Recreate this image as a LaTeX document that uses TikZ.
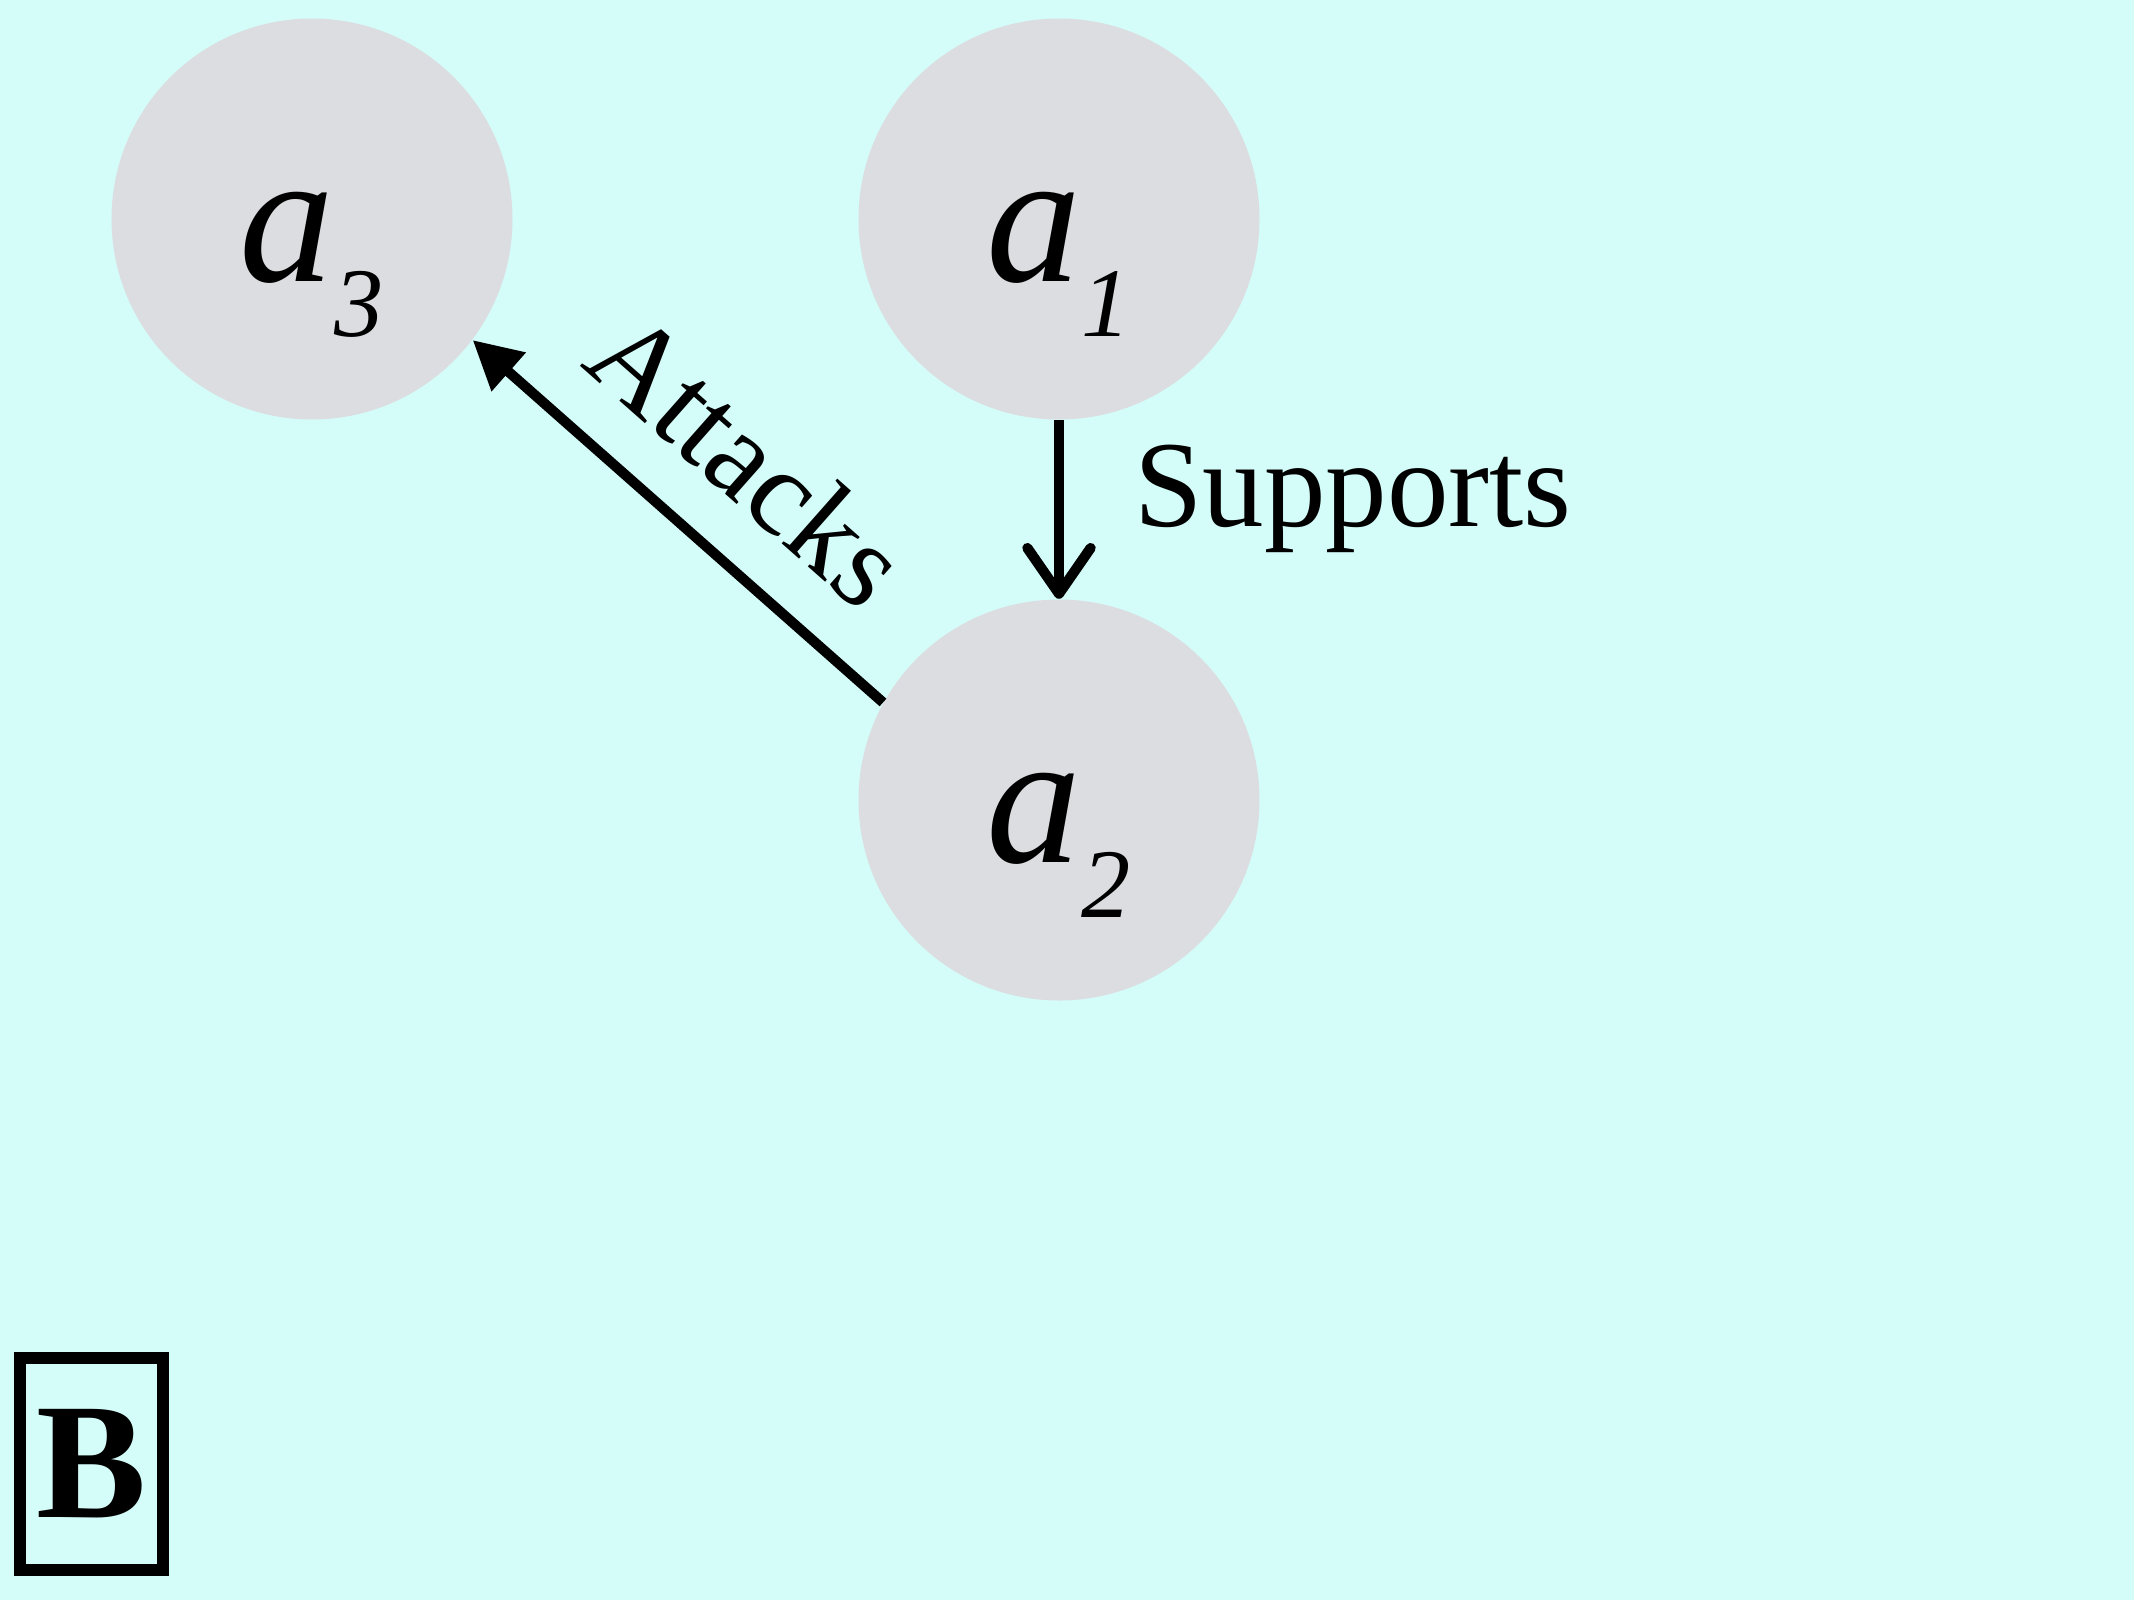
\documentclass[tikz,border=0pt]{standalone}
\usepackage{fontspec}
\setmainfont{Liberation Serif}
\usetikzlibrary{arrows.meta,positioning}
\definecolor{paper}{RGB}{212,253,250}
\definecolor{argfill}{RGB}{220,221,225}
\tikzset{
  arg/.style={circle, fill=argfill, minimum size=114.1pt, inner sep=0pt},
  rel/.style={line width=2.9pt},
  lab/.style={font=\fontsize{35}{42}\selectfont, inner sep=0pt},
  panel/.style={draw, line width=3.6pt, minimum width=40.7pt, minimum height=60.3pt,
    inner sep=0pt, font=\fontsize{47}{56}\selectfont\bfseries}
}
% argument name with a dropped subscript
\newcommand{\argsub}[1]{\raisebox{-17.8pt}[0pt][0pt]{\fontsize{54}{64}\selectfont\itshape
  a\raisebox{-15.5pt}{\fontsize{28}{32}\selectfont #1}}}

\begin{document}
\begin{tikzpicture}[x=0.1mm,y=-0.1mm]
  \fill[paper] (0,0) rectangle (2134,1600);
  % arguments
  \node[arg] (a3) at (312,219) {\argsub{3}};
  \node[arg] (a1) at (1059,219) {\argsub{1}};
  \node[arg] (a2) at (1059,800) {\argsub{2}};
  % relations
  \draw[rel,-{Straight Barb[length=13pt,width=18pt,round]}] (a1) -- (a2)
    node[lab,pos=0.44,right=20pt] (sup) {Supports};
  \draw[rel,-{Triangle[length=13.7pt,width=14pt]}] (a2.151) -- (a3.-37)
    node[lab,pos=0.48,sloped,above,inner sep=13pt] (att) {Attacks};
  \node[panel] (panel) at (91.5,1464) {B};
\end{tikzpicture}
\end{document}
